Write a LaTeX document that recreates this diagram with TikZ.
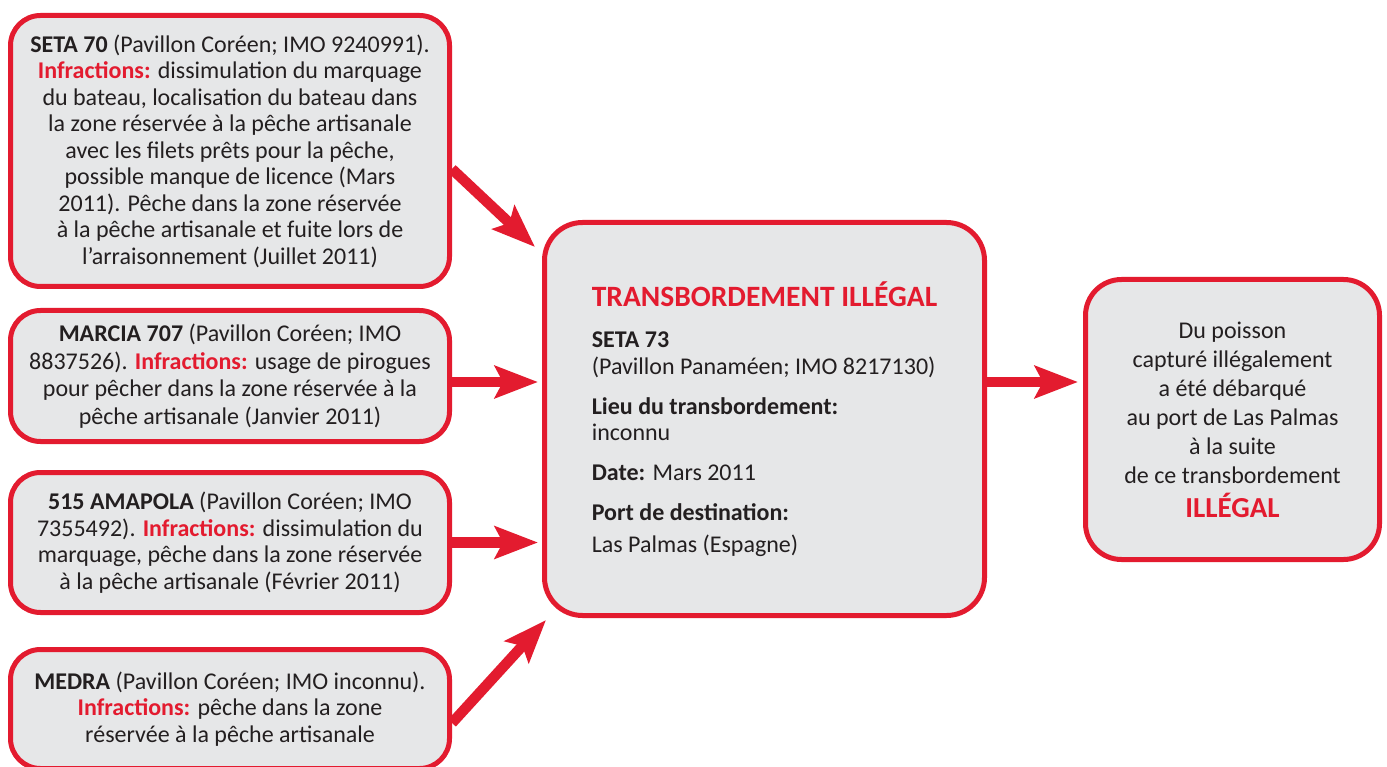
\documentclass[tikz,border=0pt]{standalone}
\usepackage{fontspec}
\setmainfont{Carlito}
\usetikzlibrary{arrows.meta,calc,backgrounds}
\definecolor{rd}{HTML}{E31B2F}
\definecolor{bg}{HTML}{E6E7E8}
\definecolor{tx}{HTML}{231F20}
\newcommand{\infr}{\textcolor{rd}{\textbf{Infractions:}}}
\begin{document}
\begin{tikzpicture}[x=1pt,y=-1pt,
  box/.style={draw=rd, line width=5pt, fill=bg, rounded corners=30pt, text=tx,
    align=center, inner sep=0pt, font=\fontsize{24}{26.5}\selectfont},
  arr/.style={draw=rd, line width=10.5pt, -{Stealth[length=43pt,width=32pt,inset=8pt]}}]
\useasboundingbox (0,0) rectangle (1387,767);

\node[box, minimum width=439pt, minimum height=271pt] (b1) at (230,151)
 {\textbf{SETA 70} (Pavillon Coréen; IMO 9240991).\\
  \infr{} dissimulation du marquage\\
  du bateau, localisation du bateau dans\\
  la zone réservée à la pêche artisanale\\
  avec les filets prêts pour la pêche,\\
  possible manque de licence (Mars\\
  2011). Pêche dans la zone réservée\\
  à la pêche artisanale et fuite lors de\\
  l’arraisonnement (Juillet 2011)};

\node[box, minimum width=439pt, minimum height=131pt,
  font=\fontsize{24}{27.5}\selectfont] (b2) at (230,376)
 {\textbf{MARCIA 707} (Pavillon Coréen; IMO\\
  8837526). \infr{} usage de pirogues\\
  pour pêcher dans la zone réservée à la\\
  pêche artisanale (Janvier 2011)};

\node[box, minimum width=439pt, minimum height=140pt] (b3) at (230,542.5)
 {\textbf{515 AMAPOLA} (Pavillon Coréen; IMO\\
  7355492). \infr{} dissimulation du\\
  marquage, pêche dans la zone réservée\\
  à la pêche artisanale (Février 2011)};

\node[box, minimum width=439pt, minimum height=119pt] (b4) at (230,709)
 {\textbf{MEDRA} (Pavillon Coréen; IMO inconnu).\\
  \infr{} pêche dans la zone\\
  réservée à la pêche artisanale};

\node[box, rounded corners=38pt, align=left, minimum width=440pt, minimum height=393pt] (c) at (764.5,419)
 {{\fontsize{29.5}{30}\selectfont\bfseries\color{rd}TRANSBORDEMENT ILLÉGAL}\\[15pt]
  \textbf{SETA 73}\\
  (Pavillon Panaméen; IMO 8217130)\\[13.5pt]
  \textbf{Lieu du transbordement:}\\
  inconnu\\[13.5pt]
  \textbf{Date:} Mars 2011\\[13.5pt]
  \textbf{Port de destination:}\\[5.5pt]
  Las Palmas (Espagne)};

\node[box, rounded corners=36pt, minimum width=294pt, minimum height=280pt,
  font=\fontsize{24}{29}\selectfont] (d) at (1232.5,419.5)
 {Du poisson\\
  capturé illégalement\\
  a été débarqué\\
  au port de Las Palmas\\
  à la suite\\
  de ce transbordement\\[5pt]
  {\fontsize{29}{29}\selectfont\bfseries\color{rd}ILLÉGAL}};

\begin{scope}[on background layer]
\fill[white] (0,0) rectangle (1387,767);
\draw[arr] ([yshift=-18pt]b1.east) -- ([xshift=-7pt,yshift=-27pt]c.north west);
\draw[arr, shorten >=4pt] ([yshift=-6pt]b2.east) -- ([yshift=-6pt]b2.east -| c.west);
\draw[arr, shorten >=4pt] (b3.east) -- (b3.east -| c.west);
\draw[arr] ([yshift=-14pt]b4.east) -- ([xshift=4pt,yshift=-2pt]c.south west);
\draw[arr, shorten >=5pt] ([yshift=37pt]c.east) -- ([yshift=37pt]c.east -| d.west);
\end{scope}
\end{tikzpicture}
\end{document}
